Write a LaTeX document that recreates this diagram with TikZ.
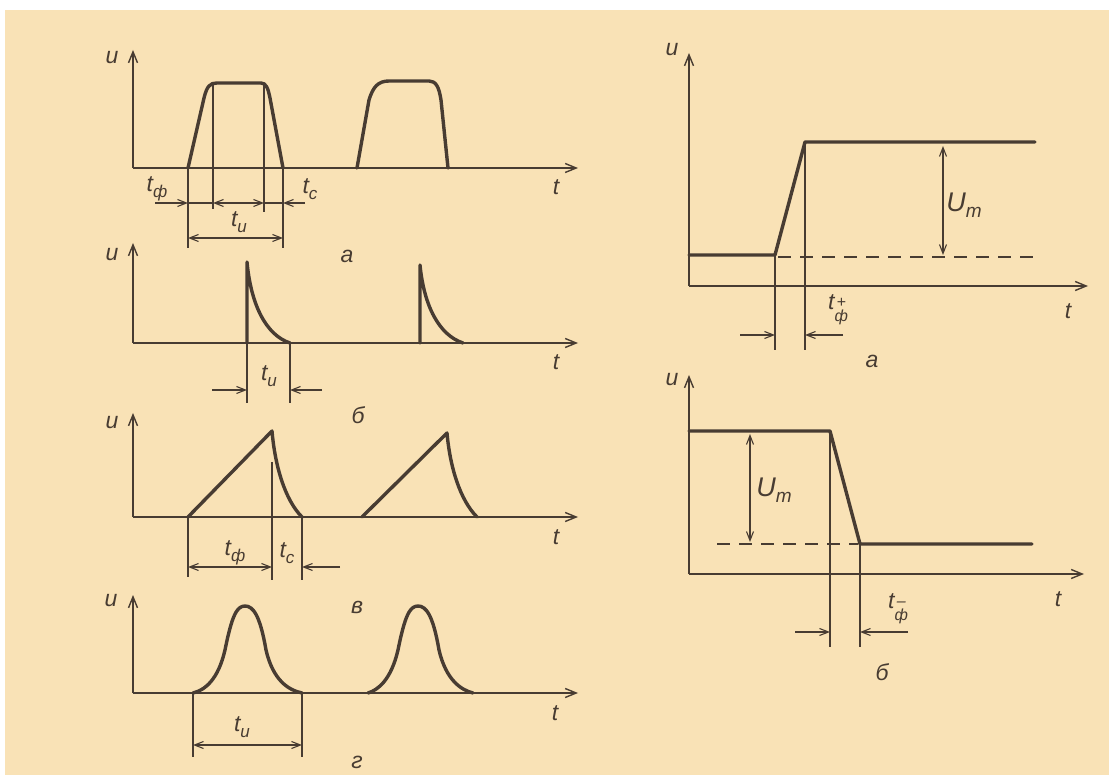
\documentclass[tikz,border=0pt]{standalone}
\usepackage{fontspec}
\setmainfont{Liberation Sans}
\usepackage{tikz}
\usetikzlibrary{arrows.meta}
\definecolor{paper}{RGB}{249,226,182}
\definecolor{ink}{RGB}{72,60,50}
\newcommand{\tsub}[1]{t\raisebox{-0.45ex}{\fontsize{17}{17}\selectfont #1}}
\newcommand{\tsubsup}[2]{t\raisebox{-1.0ex}{\fontsize{16}{13}\selectfont\shortstack{#2\\#1}}}
\begin{document}
\begin{tikzpicture}[x=1pt, y=-1pt, ink, draw=ink,
    uaxis/.style={line width=1.6pt, -{Straight Barb[length=11pt,width=9pt,line width=1.4pt]}},
    wave/.style={line width=3.4pt, line join=round, line cap=round},
    thinline/.style={line width=1.1pt},
    dimarrow/.style={line width=1.1pt, -{Straight Barb[length=9pt,width=7pt]}},
    dimboth/.style={line width=1.1pt, {Straight Barb[length=9pt,width=7pt]}-{Straight Barb[length=9pt,width=7pt]}},
    lbl/.style={font=\fontsize{23}{25}\selectfont\itshape, inner sep=0pt, text=ink}]
            \fill[white] (0,0) rectangle (1109,775);
            \fill[paper] (5,10) rectangle (1109,775);
            \useasboundingbox (0,0) rectangle (1109,775);
            % left a
            \draw[uaxis] (133,168) -- (133,50);
            \draw[uaxis] (133,168) -- (578,168);
            \node[lbl] (ua) at (112,58) {u};
            \node[lbl] (ta) at (556,187) {t};
            \draw[wave] (188,168) -- (204,98) .. controls (207,86) and (210,83) .. (217,83) -- (261,83) .. controls (266,83) and (268,88) .. (270,98) -- (283,168);
            \draw[wave] (357,168) -- (369,100) .. controls (373,87) and (378,81) .. (389,81) -- (429,81) .. controls (436,81) and (439,87) .. (441,100) -- (448,168);
            \draw[thinline] (213,85) -- (213,209);
            \draw[thinline] (264,85) -- (264,212);
            \draw[thinline] (188,168) -- (188,248);
            \draw[thinline] (283,168) -- (283,248);
            \draw[dimarrow] (155,203) -- (188,203);
            \draw[thinline] (188,203) -- (213,203);
            \draw[dimboth] (213,203) -- (264,203);
            \draw[thinline] (264,203) -- (283,203);
            \draw[dimarrow] (305,203) -- (283,203);
            \draw[dimboth] (188,238) -- (283,238);
            \node[lbl] (tfa) at (157,189) {\tsub{ф}};
            \node[lbl] (tca) at (310,189) {\tsub{с}};
            \node[lbl] (tia) at (239,222) {\tsub{и}};
            \node[lbl] (capa) at (347,256) {а};
            % left b
            \draw[uaxis] (133,343) -- (133,243);
            \draw[uaxis] (133,343) -- (578,343);
            \node[lbl] (ub) at (112,255) {u};
            \node[lbl] (tb) at (556,362) {t};
            \draw[wave] (247,343) -- (247,262) .. controls (251,305) and (266,335) .. (290,343);
            \draw[wave] (420,343) -- (420,265) .. controls (424,306) and (439,335) .. (463,343);
            \draw[thinline] (247,343) -- (247,403);
            \draw[thinline] (290,343) -- (290,403);
            \draw[dimarrow] (212,390) -- (247,390);
            \draw[dimarrow] (322,390) -- (290,390);
            \node[lbl] (tib) at (269,376) {\tsub{и}};
            \node[lbl] (capb) at (358,415) {б};
            % left v
            \draw[uaxis] (133,517) -- (133,413);
            \draw[uaxis] (133,517) -- (578,517);
            \node[lbl] (uv) at (112,423) {u};
            \node[lbl] (tv) at (556,537) {t};
            \draw[wave] (188,517) -- (272,431) .. controls (275,466) and (285,500) .. (302,517);
            \draw[wave] (362,517) -- (447,433) .. controls (450,467) and (460,500) .. (477,517);
            \draw[thinline] (188,517) -- (188,577);
            \draw[thinline] (272,462) -- (272,580);
            \draw[thinline] (302,517) -- (302,580);
            \draw[dimboth] (188,567) -- (272,567);
            \draw[dimarrow] (340,567) -- (302,567);
            \node[lbl] (tfv) at (235,553) {\tsub{ф}};
            \node[lbl] (tcv) at (287,553) {\tsub{с}};
            \node[lbl] (capv) at (357,607) {в};
            % left g
            \draw[uaxis] (133,693) -- (133,595);
            \draw[uaxis] (133,693) -- (578,693);
            \node[lbl] (ug) at (111,601) {u};
            \node[lbl] (tg) at (555,713) {t};
            \draw[wave] (193,693) .. controls (205,690) and (218,680) .. (225,650) .. controls (232,615) and (237,606) .. (245,606) .. controls (253,606) and (260,615) .. (266,650) .. controls (273,680) and (288,690) .. (302,693);
            \draw[wave, xshift=173pt] (195,693) .. controls (205,690) and (218,680) .. (225,650) .. controls (232,615) and (237,606) .. (245,606) .. controls (253,606) and (260,615) .. (266,650) .. controls (273,680) and (288,690) .. (300,693);
            \draw[thinline] (193,693) -- (193,757);
            \draw[thinline] (302,693) -- (302,757);
            \draw[dimboth] (193,745) -- (302,745);
            \node[lbl] (tig) at (242,727) {\tsub{и}};
            \node[lbl] (capg) at (357,762) {г};
            % right a
            \draw[uaxis] (689,286) -- (689,53);
            \draw[uaxis] (689,286) -- (1088,286);
            \node[lbl] (ura) at (672,50) {u};
            \node[lbl] (tra) at (1068,311) {t};
            \draw[thinline, dashed, dash pattern=on 13pt off 9pt] (778,257) -- (1033,257);
            \draw[wave] (689,255) -- (775,255) -- (805,142) -- (1035,142);
            \draw[thinline] (805,142) -- (805,350);
            \draw[thinline] (775,255) -- (775,350);
            \draw[dimarrow] (740,335) -- (775,335);
            \draw[dimarrow] (843,335) -- (805,335);
            \draw[dimboth] (943,146) -- (943,255);
            \node[lbl] (tfra) at (838,310) {\tsubsup{ф}{+}};
            \node[lbl, font=\fontsize{27}{29}\selectfont\itshape] (umra) at (964,205) {U\raisebox{-0.4ex}{\fontsize{19}{19}\selectfont m}};
            \node[lbl] (capra) at (872,361) {а};
            % right b
            \draw[uaxis] (689,574) -- (689,375);
            \draw[uaxis] (689,574) -- (1084,574);
            \node[lbl] (urb) at (672,380) {u};
            \node[lbl] (trb) at (1058,599) {t};
            \draw[thinline, dashed, dash pattern=on 13pt off 9pt] (717,544) -- (858,544);
            \draw[wave] (689,431) -- (830,431) -- (860,544) -- (1032,544);
            \draw[thinline] (830,431) -- (830,647);
            \draw[thinline] (860,544) -- (860,647);
            \draw[dimarrow] (795,632) -- (830,632);
            \draw[dimarrow] (908,632) -- (860,632);
            \draw[dimboth] (750,434) -- (750,542);
            \node[lbl] (tfrb) at (898,609) {\tsubsup{ф}{–}};
            \node[lbl, font=\fontsize{27}{29}\selectfont\itshape] (umrb) at (774,490) {U\raisebox{-0.4ex}{\fontsize{19}{19}\selectfont m}};
            \node[lbl] (caprb) at (882,672) {б};
        \end{tikzpicture}
\end{document}
